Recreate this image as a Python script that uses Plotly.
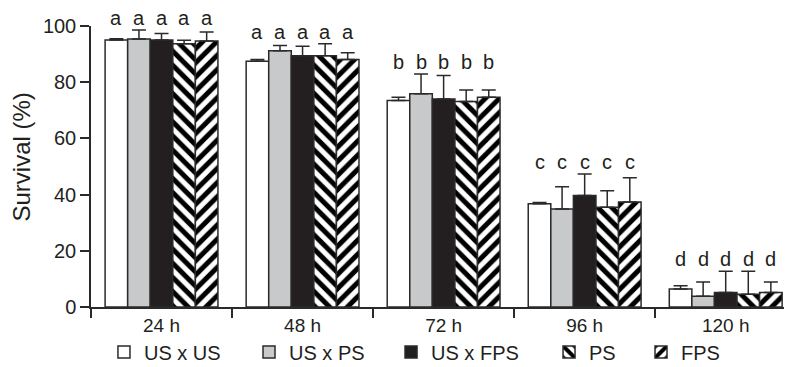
import plotly.graph_objects as go

categories = ["24 h", "48 h", "72 h", "96 h", "120 h"]
series_names = ["US x US", "US x PS", "US x FPS", "PS", "FPS"]

us_us = [95.0, 87.5, 73.5, 36.7, 6.4]
us_us_err = [0.5, 0.6, 1.1, 0.5, 1.2]
us_ps = [95.4, 91.2, 75.9, 34.9, 3.8]
us_ps_err = [3.2, 1.9, 7.0, 7.9, 5.1]
us_fps = [95.0, 89.4, 74.0, 39.7, 5.2]
us_fps_err = [2.3, 3.4, 8.4, 7.6, 7.5]
ps = [93.7, 89.4, 73.1, 35.5, 4.5]
ps_err = [1.2, 4.3, 4.1, 5.9, 8.2]
fps = [94.7, 88.1, 74.6, 37.4, 5.2]
fps_err = [3.2, 2.4, 2.6, 8.6, 3.7]

group_letters = ["a", "a", "b", "c", "d"]

y_ticks = [0, 20, 40, 60, 80, 100]
y_title = "Survival (%)"

values = [us_us, us_ps, us_fps, ps, fps]
errors = [us_us_err, us_ps_err, us_fps_err, ps_err, fps_err]

INK = "#231f20"
LINE = "#2a2a2a"
FONT = "Liberation Sans, Arial, Helvetica, sans-serif"
Y_MAX = 100

styles = [
    dict(color="white"),
    dict(color="#c8c9cb"),
    dict(color="#231f20"),
    dict(color="white", pattern=dict(shape="\\", fgcolor="black", bgcolor="white",
                                      size=10, solidity=0.5, fillmode="replace")),
    dict(color="white", pattern=dict(shape="/", fgcolor="black", bgcolor="white",
                                      size=10, solidity=0.5, fillmode="replace")),
]

legend_ids = ["legend", "legend2", "legend3", "legend4", "legend5"]
legend_x = [0.0185, 0.2254, 0.4280, 0.6534, 0.7846]

fig = go.Figure()
for name, v, e, st, lg in zip(series_names, values, errors, styles, legend_ids):
    marker = dict(line=dict(color=LINE, width=1.5))
    marker.update(st)
    fig.add_trace(go.Bar(
        name=name, x=categories, y=v, marker=marker, legend=lg,
        error_y=dict(type="data", array=e, arrayminus=[0] * len(e), symmetric=False,
                     color=LINE, thickness=1.5, width=7),
    ))

bargap = 0.2
n = len(series_names)
bw = (1 - bargap) / n
annotations = []
for gi, cat in enumerate(categories):
    top = max(values[s][gi] + errors[s][gi] for s in range(n))
    for s in range(n):
        off = -(1 - bargap) / 2 + bw * (s + 0.5)
        annotations.append(dict(
            x=gi + off, y=(top + 4.3) / Y_MAX, xref="x", yref="paper", text=group_letters[gi],
            showarrow=False, font=dict(size=20, color=INK, family=FONT), yanchor="middle",
        ))

# y-axis title
annotations.append(dict(
    x=0, xref="paper", xshift=-69, y=0.532, yref="paper", text=y_title, textangle=-90,
    showarrow=False, xanchor="center", yanchor="middle",
    font=dict(size=24, color=INK, family=FONT),
))

legend_common = dict(orientation="h", xanchor="left", y=-0.16, yanchor="middle",
                     font=dict(size=20, color=INK, family=FONT), itemclick=False,
                     bgcolor="rgba(0,0,0,0)")

layout_legends = {}
for lg, lx in zip(legend_ids, legend_x):
    d = dict(legend_common)
    d["x"] = lx
    layout_legends[lg] = d

# page body has an 8px default margin; size the figure so the plot lands in place
fig.update_layout(
    width=784, height=359,
    margin=dict(l=83, r=0, t=18, b=60, autoexpand=False),
    paper_bgcolor="white", plot_bgcolor="white",
    barmode="group", bargap=bargap, bargroupgap=0,
    font=dict(family=FONT, color=INK, size=19),
    showlegend=True,
    annotations=annotations,
    **layout_legends,
)
fig.update_xaxes(
    type="category", range=[-0.5, 4.47], showline=True, linecolor=LINE, linewidth=1.5,
    ticks="outside", tickson="boundaries", ticklen=9, tickwidth=1.5, tickcolor=LINE,
    showgrid=False, zeroline=False, tickfont=dict(size=19, color=INK),
)
fig.update_yaxes(
    range=[0, Y_MAX], tickvals=y_ticks, showline=True, linecolor=LINE, linewidth=1.5,
    ticks="outside", ticklen=9, tickwidth=1.5, tickcolor=LINE, showgrid=False,
    zeroline=False, tickfont=dict(size=20, color=INK),
)

fig.write_html("out.html")
